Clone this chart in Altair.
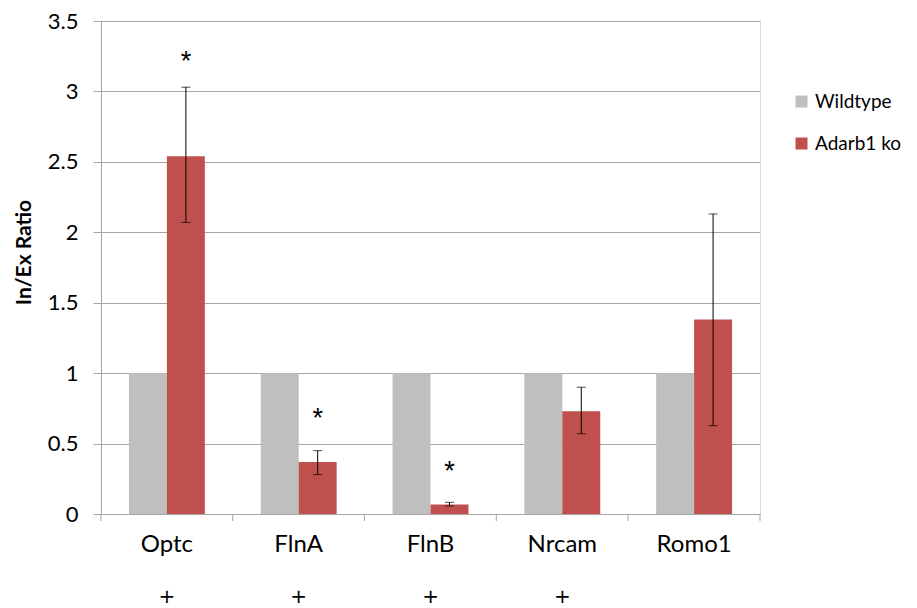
import altair as alt
import pandas as pd

genes = ["Optc", "FlnA", "FlnB", "Nrcam", "Romo1"]
groups = ["Wildtype", "Adarb1 ko"]
wildtype = [1.0, 1.0, 1.0, 1.0, 1.0]
knockout = [2.54, 0.37, 0.068, 0.73, 1.38]
ko_err_high = [3.03, 0.45, 0.083, 0.90, 2.13]
ko_err_low = [2.07, 0.28, 0.057, 0.57, 0.627]
star_labels = ["*", "*", "*", "", ""]
star_y = [3.24, 0.70, 0.33, 0, 0]
plus_labels = ["+", "+", "+", "+", ""]
colors = ["#BFBFBF", "#C0504D"]

W, H = 659, 493
FONT = "Lato"

bars_df = pd.DataFrame({
    "gene": genes * 2,
    "group": [groups[0]] * len(genes) + [groups[1]] * len(genes),
    "value": wildtype + knockout,
})
err_df = pd.DataFrame({
    "gene": genes, "group": [groups[1]] * len(genes),
    "hi": ko_err_high, "lo": ko_err_low,
})
star_df = pd.DataFrame({
    "gene": genes, "group": [groups[1]] * len(genes),
    "label": star_labels, "y": star_y,
})
star_df = star_df[star_df["label"] != ""]
plus_df = pd.DataFrame({"gene": genes, "label": plus_labels})

xscale = alt.Scale(domain=genes, paddingInner=0.424, paddingOuter=0.212)
xoff = alt.XOffset("group:N", scale=alt.Scale(domain=groups, paddingInner=0, paddingOuter=0))
yscale = alt.Scale(domain=[0, 3.5], nice=False)

xaxis = alt.Axis(title=None, ticks=False, domainColor="#A6A6A6", domainWidth=1,
                 labelFont=FONT, labelFontSize=24, labelColor="#000000",
                 labelPadding=18, labelAngle=0, grid=False)
yaxis = alt.Axis(title="In/Ex Ratio", values=[0, 0.5, 1, 1.5, 2, 2.5, 3, 3.5], format="~g",
                 grid=True, gridColor="#A6A6A6", gridWidth=1,
                 domainColor="#A6A6A6", tickColor="#A6A6A6", tickSize=8,
                 labelFont=FONT, labelFontSize=22, labelColor="#000000", labelPadding=15,
                 titleFont=FONT, titleFontSize=21, titleFontWeight="bold", titleColor="#000000",
                 titleX=-71, titleY=231, titleAngle=-90, titleBaseline="alphabetic", titleAlign="center")

bars = alt.Chart(bars_df).mark_bar().encode(
    x=alt.X("gene:N", sort=genes, scale=xscale, axis=xaxis),
    xOffset=xoff,
    y=alt.Y("value:Q", scale=yscale, axis=yaxis),
    color=alt.Color("group:N", scale=alt.Scale(domain=groups, range=colors),
                    legend=alt.Legend(title=None, orient="none", legendX=691, legendY=71,
                                      symbolType="square", symbolSize=144, symbolStrokeWidth=0,
                                      labelFont=FONT, labelFontSize=19, labelColor="#000000",
                                      labelOffset=4, rowPadding=22, padding=0)),
)

err_rule = alt.Chart(err_df).mark_rule(color="#000000", strokeWidth=1).encode(
    x=alt.X("gene:N", sort=genes), xOffset=xoff,
    y=alt.Y("lo:Q"), y2="hi:Q",
)
cap_hi = alt.Chart(err_df).mark_tick(color="#000000", thickness=1, size=9, orient="horizontal").encode(
    x=alt.X("gene:N", sort=genes), xOffset=xoff, y=alt.Y("hi:Q"),
)
cap_lo = alt.Chart(err_df).mark_tick(color="#000000", thickness=1, size=9, orient="horizontal").encode(
    x=alt.X("gene:N", sort=genes), xOffset=xoff, y=alt.Y("lo:Q"),
)
stars = alt.Chart(star_df).mark_text(font="Liberation Sans", fontSize=27, color="#000000",
                                     baseline="middle", dy=4).encode(
    x=alt.X("gene:N", sort=genes), xOffset=xoff, y=alt.Y("y:Q"), text="label:N",
)
pluses = alt.Chart(plus_df).mark_text(font="DejaVu Sans", fontSize=20, color="#000000", baseline="middle").encode(
    x=alt.X("gene:N", sort=genes), y=alt.value(H + 83), text="label:N",
)
bticks = alt.Chart(plus_df).mark_rule(color="#A6A6A6", strokeWidth=1, xOffset=-66).encode(
    x=alt.X("gene:N", sort=genes), y=alt.value(H), y2=alt.value(H + 7),
)
end_tick = alt.Chart(pd.DataFrame({"a": [0]})).mark_rule(color="#A6A6A6", strokeWidth=1).encode(
    x=alt.value(W), y=alt.value(H), y2=alt.value(H + 7),
)

chart = alt.layer(bars, err_rule, cap_hi, cap_lo, stars, pluses, bticks, end_tick).properties(
    width=W, height=H,
    autosize=alt.AutoSizeParams(type="none"),
    padding={"left": 93, "top": 13, "right": 141, "bottom": 94},
).configure_view(stroke=None).configure(background="#FFFFFF")

chart.save("out.html", embed_options={"renderer": "svg", "actions": False})
